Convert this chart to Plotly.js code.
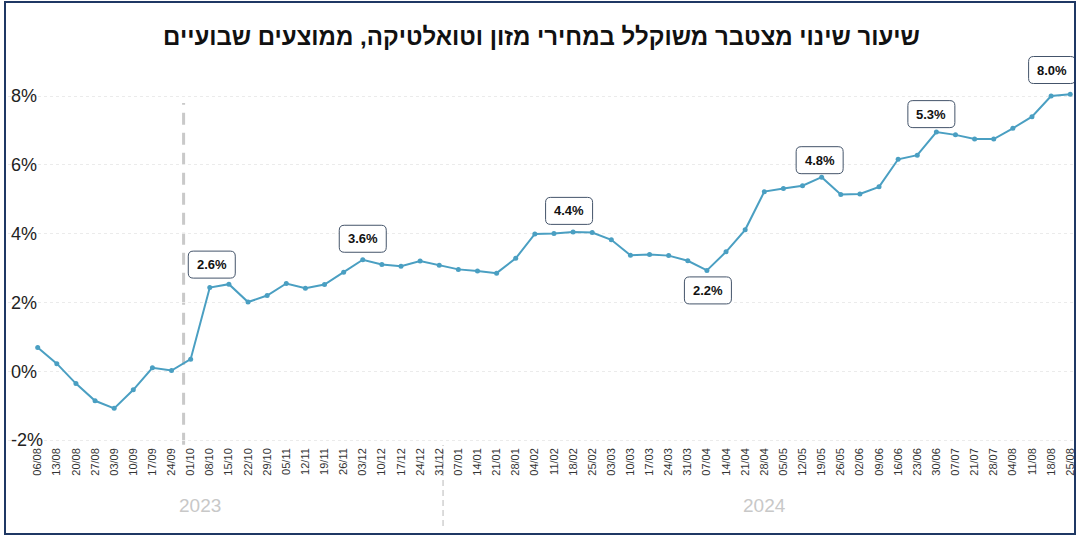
<!DOCTYPE html>
<html>
<head>
<meta charset="utf-8">
<script src="https://cdn.plot.ly/plotly-3.0.1.min.js"></script>
<style>
  html, body { margin: 0; padding: 0; background: #fff; }
  #wrap { position: relative; width: 1083px; height: 536px; }
  #chart { width: 1083px; height: 536px; }
  #frame { position: absolute; left: 4px; top: 1px; width: 1068px; height: 530px;
           border: 2px solid #1f3864; pointer-events: none; }
</style>
</head>
<body>
<div id="wrap"><div id="chart"></div><div id="frame"></div></div>
<script>
// ---- data ----
const weeks2023 = ['06/08','13/08','20/08','27/08','03/09','10/09','17/09','24/09','01/10','08/10','15/10','22/10','29/10','05/11','12/11','19/11','26/11','03/12','10/12','17/12','24/12','31/12'];
const weeks2024 = ['07/01','14/01','21/01','28/01','04/02','11/02','18/02','25/02','03/03','10/03','17/03','24/03','31/03','07/04','14/04','21/04','28/04','05/05','12/05','19/05','26/05','02/06','09/06','16/06','23/06','30/06','07/07','21/07','28/07','04/08','11/08','18/08','25/08'];
const values2023 = [0.69,0.22,-0.36,-0.86,-1.08,-0.54,0.10,0.02,0.35,2.43,2.53,2.01,2.20,2.55,2.41,2.52,2.88,3.24,3.10,3.05,3.20,3.08];
const values2024 = [2.96,2.91,2.85,3.28,3.99,4.00,4.05,4.03,3.82,3.37,3.39,3.36,3.21,2.93,3.47,4.11,5.22,5.31,5.39,5.64,5.14,5.15,5.36,6.16,6.28,6.95,6.87,6.75,6.75,7.06,7.40,8.00,8.05];
const calloutWeeks = ['08/10','03/12','18/02','07/04','19/05','30/06','18/08'];
const calloutTexts = ['2.6%','3.6%','4.4%','2.2%','4.8%','5.3%','8.0%'];
const yearLabels = ['2023','2024'];
const titleText = 'שיעור שינוי מצטבר משוקלל במחירי מזון וטואלטיקה, ממוצעים שבועיים';

// ---- layout helpers (pixel offsets of callout boxes from their points) ----
const calloutDx = [2,0,-4,1,-2,-5,1];
const calloutDy = [23,21,21,-20,17,18,26];

const weeks = weeks2023.concat(weeks2024);
const values = values2023.concat(values2024);
const lineColor = '#4a9fc2';

const trace = {
  x: weeks, y: values, type: 'scatter', mode: 'lines+markers',
  line: {color: lineColor, width: 2},
  marker: {color: lineColor, size: 5},
  hoverinfo: 'skip', showlegend: false
};

function roundRect(cx, cy, w, h, r) {
  const l = cx - w/2, rt = cx + w/2, b = cy - h/2, t = cy + h/2;
  return `M ${l+r},${b} L ${rt-r},${b} Q ${rt},${b} ${rt},${b+r} L ${rt},${t-r} Q ${rt},${t} ${rt-r},${t} L ${l+r},${t} Q ${l},${t} ${l},${t-r} L ${l},${b+r} Q ${l},${b} ${l+r},${b} Z`;
}

const shapes = [];
const annotations = [];
calloutWeeks.forEach((wk, i) => {
  const idx = weeks.indexOf(wk);
  const v = values[idx];
  shapes.push({
    type: 'path', xref: 'x', yref: 'y', xsizemode: 'pixel', ysizemode: 'pixel',
    xanchor: idx, yanchor: v,
    path: roundRect(calloutDx[i], calloutDy[i], 47, 27, 5),
    line: {color: '#44546a', width: 1}, fillcolor: '#ffffff', layer: 'above'
  });
  annotations.push({
    x: idx, y: v, xref: 'x', yref: 'y', xshift: calloutDx[i], yshift: calloutDy[i],
    text: '<b>' + calloutTexts[i] + '</b>', showarrow: false,
    font: {family: 'Liberation Sans, Arial, sans-serif', size: 13, color: '#111'},
    xanchor: 'center', yanchor: 'middle'
  });
});

// year separators
shapes.push({type: 'line', xref: 'x', yref: 'y', x0: 7.63, x1: 7.63, y0: -2.14, y1: 7.8,
  line: {color: '#c9c9c9', width: 3, dash: '12px,8px'}, layer: 'below'});
shapes.push({type: 'line', xref: 'x', yref: 'paper', x0: 21.2, x1: 21.2, y0: -0.205, y1: 0.0,
  line: {color: '#d0d0d0', width: 1.5, dash: '6px,4px'}, layer: 'below'});

// year labels
[8.5, 38.0].forEach((xp, i) => {
  annotations.push({x: xp, y: -0.152, xref: 'x', yref: 'paper', text: yearLabels[i], showarrow: false,
    font: {family: 'Liberation Sans, Arial, sans-serif', size: 19, color: '#c8c8c8'},
    xanchor: 'center', yanchor: 'middle'});
});

const layout = {
  width: 1083, height: 536,
  margin: {l: 8, r: 8, t: 50, b: 91},
  paper_bgcolor: '#ffffff', plot_bgcolor: '#ffffff',
  title: {text: '<b>' + titleText + '</b>', x: 0.5, xanchor: 'center', y: 0.931, yanchor: 'middle',
    yref: 'container', font: {family: 'Liberation Sans, Arial, sans-serif', size: 24, color: '#111'}},
  xaxis: {type: 'category', range: [-1.553, 54.25], showgrid: false, zeroline: false, showline: false,
    tickangle: -90, ticks: '', tickfont: {family: 'Liberation Sans, Arial, sans-serif', size: 11, color: '#333'},
    fixedrange: true},
  yaxis: {range: [-2.145, 9.337], tickvals: [-2,0,2,4,6,8], ticktext: ['-2%','0%','2%','4%','6%','8%'],
    ticklabelposition: 'inside', ticklabeloverflow: 'allow',
    showgrid: true, gridcolor: '#ebebeb', griddash: 'dot', gridwidth: 1,
    zeroline: false, showline: false, ticks: '',
    tickfont: {family: 'Liberation Sans, Arial, sans-serif', size: 18, color: '#222'}, fixedrange: true},
  shapes: shapes, annotations: annotations
};

Plotly.newPlot('chart', [trace], layout, {displayModeBar: false, staticPlot: true});
</script>
</body>
</html>
